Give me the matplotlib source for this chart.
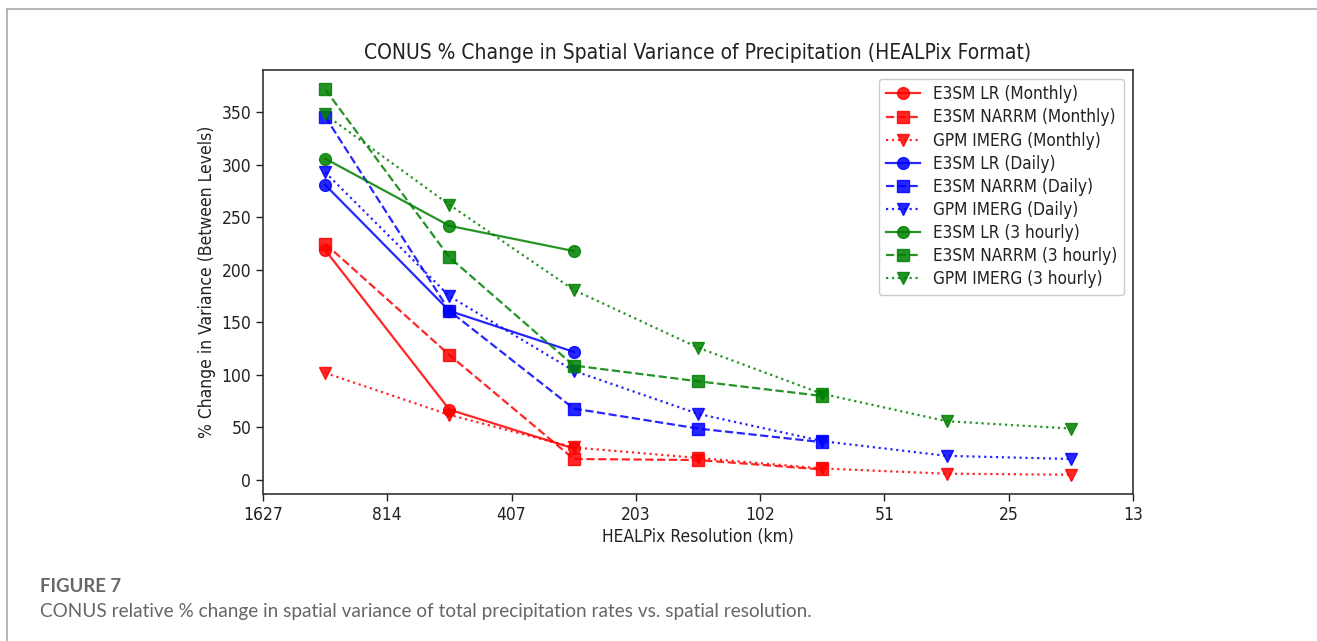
import numpy as np
import matplotlib
matplotlib.use("Agg")
import matplotlib.pyplot as plt
from matplotlib.lines import Line2D

# HEALPix level boundaries (km) used as tick labels
RES_TICKS = ["1627", "814", "407", "203", "102", "51", "25", "13"]
# change between consecutive levels sits half way between ticks
X_MID = [0.5, 1.5, 2.5, 3.5, 4.5, 5.5, 6.5]

lr_monthly = [219, 67, 30]
narrm_monthly = [225, 119, 20, 19, 10]
gpm_monthly = [102, 62, 31, 21, 11, 6, 5]

lr_daily = [281, 161, 122]
narrm_daily = [346, 161, 68, 49, 36]
gpm_daily = [293, 175, 104, 63, 37, 23, 20]

lr_3h = [306, 242, 218]
narrm_3h = [372, 212, 109, 94, 80]
gpm_3h = [348, 262, 181, 126, 82, 56, 49]

SERIES = [
    ("E3SM LR (Monthly)", lr_monthly, "red", "-", "o"),
    ("E3SM NARRM (Monthly)", narrm_monthly, "red", "--", "s"),
    ("GPM IMERG (Monthly)", gpm_monthly, "red", ":", "v"),
    ("E3SM LR (Daily)", lr_daily, "blue", "-", "o"),
    ("E3SM NARRM (Daily)", narrm_daily, "blue", "--", "s"),
    ("GPM IMERG (Daily)", gpm_daily, "blue", ":", "v"),
    ("E3SM LR (3 hourly)", lr_3h, "green", "-", "o"),
    ("E3SM NARRM (3 hourly)", narrm_3h, "green", "--", "s"),
    ("GPM IMERG (3 hourly)", gpm_3h, "green", ":", "v"),
]

plt.rcParams["font.family"] = "DejaVu Sans"
plt.rcParams["font.stretch"] = "condensed"

fig = plt.figure(figsize=(13.17, 6.41), dpi=100)
ax = fig.add_axes([0.1997, 0.2293, 0.6606, 0.6615])

for label, vals, color, ls, mk in SERIES:
    ax.plot(X_MID[:len(vals)], vals, color=color, linestyle=ls, marker=mk,
            markersize=8.5, linewidth=1.6, alpha=0.85, label=label)

ax.set_xlim(0, 7)
ax.set_xticks(range(len(RES_TICKS)))
ax.set_xticklabels(RES_TICKS)
ax.set_yticks([0, 50, 100, 150, 200, 250, 300, 350])
ax.tick_params(labelsize=12.5, colors="#222222", width=1.0, length=5)
for s in ax.spines.values():
    s.set_linewidth(1.2)
    s.set_color("#333333")
ax.set_xlabel("HEALPix Resolution (km)", fontsize=12.5, color="#222222", labelpad=3)
ax.set_ylabel("% Change in Variance (Between Levels)", fontsize=12.5, color="#222222")
ax.set_title("CONUS % Change in Spatial Variance of Precipitation (HEALPix Format)",
             fontsize=15, color="#222222", pad=8)

leg = ax.legend(loc="upper right", fontsize=12.3, borderaxespad=0.5,
                handlelength=2.0, labelspacing=0.3, framealpha=1.0)
leg.get_frame().set_edgecolor("#cccccc")
for t in leg.get_texts():
    t.set_color("#222222")

# page frame around the figure
fig.add_artist(Line2D([7 / 1317, 1.0], [1 - 9 / 641, 1 - 9 / 641],
                      transform=fig.transFigure, color="#aaaaaa", linewidth=1.2))
fig.add_artist(Line2D([7 / 1317, 7 / 1317], [0.0, 1 - 9 / 641],
                      transform=fig.transFigure, color="#aaaaaa", linewidth=1.2))

fig.text(40 / 1317, 1 - 587 / 641, "FIGURE 7", fontsize=13.3, fontweight="bold",
         family="Lato", stretch="normal", color="#666666", va="center")
fig.text(40 / 1317, 1 - 612 / 641,
         "CONUS relative % change in spatial variance of total precipitation rates vs. spatial resolution.",
         fontsize=13.7, family="Lato", stretch="normal", color="#666666", va="center")

fig.savefig("out.png", dpi=100)
